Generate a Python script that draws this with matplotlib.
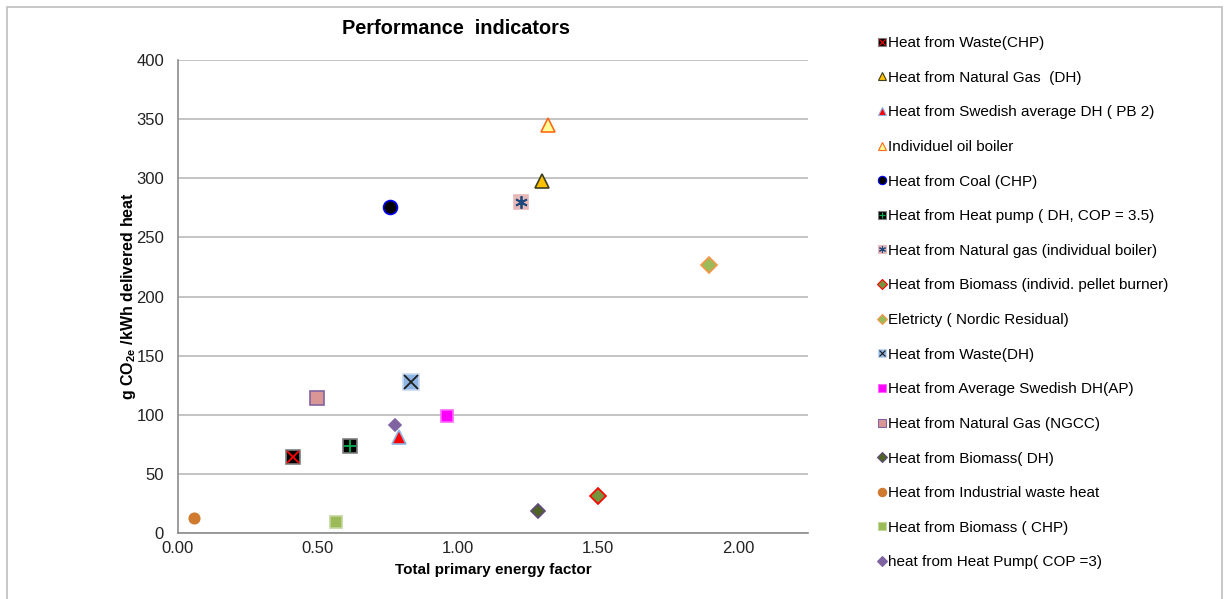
import matplotlib
matplotlib.use('Agg')
import matplotlib.pyplot as plt
from matplotlib.lines import Line2D
from matplotlib.patches import Rectangle

plt.rcParams['font.family'] = ['Liberation Sans', 'DejaVu Sans']
plt.rcParams['mathtext.default'] = 'regular'

# series names as in the legend
labels = ['Heat from Waste(CHP)',
          'Heat from Natural Gas  (DH)',
          'Heat from Swedish average DH ( PB 2)',
          'Individuel oil boiler',
          'Heat from Coal (CHP)',
          'Heat from Heat pump ( DH, COP = 3.5)',
          'Heat from Natural gas (individual boiler)',
          'Heat from Biomass (individ. pellet burner)',
          'Eletricty ( Nordic Residual)',
          'Heat from Waste(DH)',
          'Heat from Average Swedish DH(AP)',
          'Heat from Natural Gas (NGCC)',
          'Heat from Biomass( DH)',
          'Heat from Industrial waste heat',
          'Heat from Biomass ( CHP)',
          'heat from Heat Pump( COP =3)']

# total primary energy factor
pef = [0.41, 1.30, 0.79, 1.32, 0.757, 0.614, 1.225, 1.50,
       1.896, 0.832, 0.961, 0.496, 1.286, 0.057, 0.564, 0.775]
# g CO2e / kWh delivered heat
co2 = [64, 298, 81, 345, 276, 74, 280, 31,
       227, 128, 99, 114, 19, 13, 9, 91]

# marker styles: (marker, face, edge, size, overlay marker, overlay colour)
styles = [
    ('s', 'black', '#7F7F7F', 10, 'x', 'red'),
    ('^', '#FFC000', '#3F3F1F', 10, None, None),
    ('^', 'red', '#8EB4E3', 10, None, None),
    ('^', '#FFFF99', '#FF6A1A', 10, None, None),
    ('o', 'black', 'blue', 10, None, None),
    ('s', 'black', '#7F7F7F', 10, '+', '#00B050'),
    ('s', '#E6B9B8', '#E6B9B8', 10, (6, 2, 0), '#1F497D'),
    ('D', '#77933C', 'red', 8, None, None),
    ('D', '#9BBB59', '#F79646', 8, None, None),
    ('s', '#8DB4E2', '#C6D9F1', 11, 'x', '#1F1F1F'),
    ('s', '#FF00FF', '#FF66FF', 8, None, None),
    ('s', '#D99694', '#8064A2', 10, None, None),
    ('D', '#4F6228', '#604A7B', 7.5, None, None),
    ('o', '#D07A30', '#D07A30', 7.5, None, None),
    ('s', '#9BBB59', '#C3D69B', 8, None, None),
    ('D', '#8064A2', '#8064A2', 6.5, None, None),
]

fig = plt.figure(figsize=(12.24, 5.99), dpi=100)
ax = fig.add_axes([0.1454, 0.110, 0.5147, 0.790])

handles = []
for i in range(len(labels)):
    m, fc, ec, ms, om, oc = styles[i]
    ax.plot(pef[i], co2[i], linestyle='none', marker=m, markerfacecolor=fc,
            markeredgecolor=ec, markersize=ms, markeredgewidth=1.2, zorder=3)
    h = Line2D([], [], linestyle='none', marker=m, markerfacecolor=fc,
               markeredgecolor=ec, markersize=6 if m != 'D' else 5, markeredgewidth=0.8)
    if om is not None:
        ax.plot(pef[i], co2[i], linestyle='none', marker=om, color=oc,
                markersize=ms * 0.9, markeredgewidth=1.3, zorder=4)
        h2 = Line2D([], [], linestyle='none', marker=om, color=oc,
                    markersize=5, markeredgewidth=0.8)
        h = (h, h2)
    handles.append(h)

ax.set_xlim(0, 2.25)
ax.set_ylim(0, 400)
ax.set_xticks([0, 0.5, 1.0, 1.5, 2.0])
ax.set_xticklabels(['0.00', '0.50', '1.00', '1.50', '2.00'])
ax.set_yticks(range(0, 401, 50))
ax.tick_params(length=0, labelsize=12, colors='#222222')
ax.tick_params(axis='y', pad=10)
ax.tick_params(axis='x', pad=6)
ax.yaxis.grid(True, color='#BFBFBF', linewidth=1.3)
ax.set_axisbelow(True)
for s in ['top', 'right']:
    ax.spines[s].set_visible(False)
for s in ['left', 'bottom']:
    ax.spines[s].set_color('#8C8C8C')
    ax.spines[s].set_linewidth(1.2)

ax.set_xlabel('Total primary energy factor', fontsize=11, fontweight='bold', labelpad=5)
ax.set_ylabel('g CO$_{2e}$ /kWh delivered heat', fontsize=11.5, fontweight='bold', labelpad=-1)
fig.text(0.3725, 0.953, 'Performance  indicators', fontsize=14.3, fontweight='bold',
         ha='center', va='center')

fig.legend(handles, labels, loc='upper left', bbox_to_anchor=(0.712, 0.950),
           frameon=False, fontsize=11, handlelength=0.6, handletextpad=0.1,
           labelspacing=1.35, borderaxespad=0)

# outer chart border
fig.patches.append(Rectangle((0.006, -0.01), 0.992, 0.998, transform=fig.transFigure,
                             fill=False, edgecolor='#BFBFBF', linewidth=1.2))

fig.savefig('out.png', dpi=100)
